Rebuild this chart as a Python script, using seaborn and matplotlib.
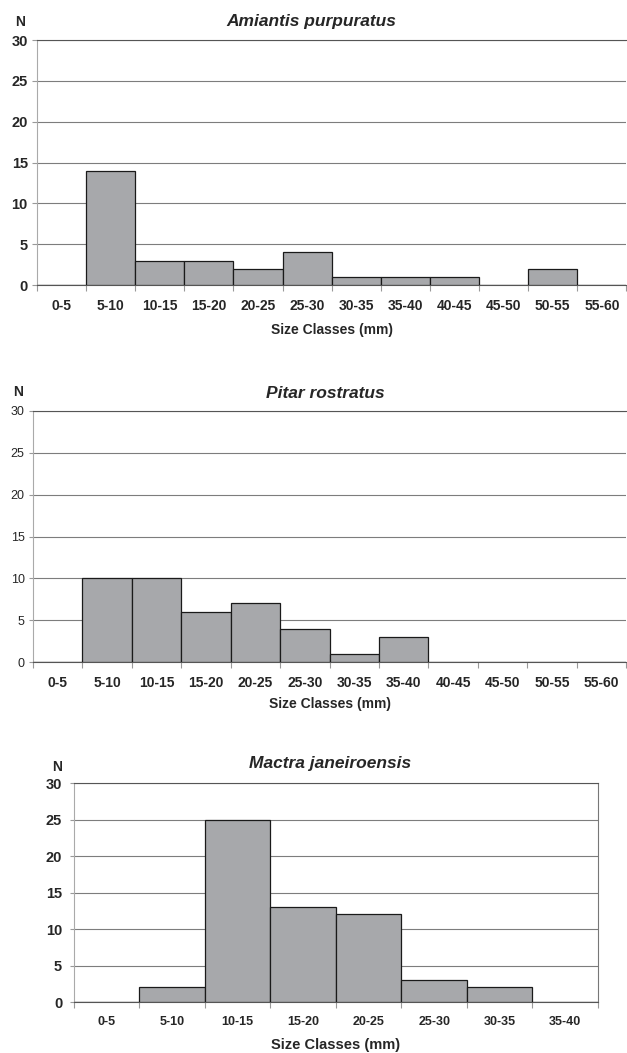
import numpy as np
import pandas as pd
import matplotlib
matplotlib.use("Agg")
import matplotlib.pyplot as plt
import seaborn as sns

# ---- data ----
classes_60 = ["0-5", "5-10", "10-15", "15-20", "20-25", "25-30",
              "30-35", "35-40", "40-45", "45-50", "50-55", "55-60"]
classes_40 = ["0-5", "5-10", "10-15", "15-20", "20-25", "25-30", "30-35", "35-40"]

amiantis_n = [0, 14, 3, 3, 2, 4, 1, 1, 1, 0, 2, 0]
pitar_n = [0, 10, 10, 6, 7, 4, 1, 3, 0, 0, 0, 0]
mactra_n = [0, 2, 25, 13, 12, 3, 2, 0]

titles = ["Amiantis purpuratus", "Pitar rostratus", "Mactra janeiroensis"]

sns.set_style("white")
plt.rcParams["font.family"] = ["Liberation Sans", "DejaVu Sans"]

fig = plt.figure(figsize=(6.27, 10.53), dpi=100)

# axes boxes in figure fractions (left, bottom, width, height)
boxes = [
    (0.059, 0.7293, 0.940, 0.2327),
    (0.0526, 0.3713, 0.946, 0.2384),
    (0.118, 0.0484, 0.8357, 0.2080),
]
panels = [(classes_60, amiantis_n), (classes_60, pitar_n), (classes_40, mactra_n)]

# per-panel text tweaks
xt_size = [10, 10, 9]
yt_size = [10.5, 9, 10.5]
yt_weight = ["bold", "normal", "bold"]
yt_pad = [3, 3, 5.5]
yt_len = [3.6, 3, 3]
xlab_pad = [7, 5, 7]
title_x = [0.466, 0.493, 0.489]
title_pad = [10, 9, 10.5]
n_xpos = [-0.029, -0.025, -0.032]

bar_color = "#a7a8ab"
grid_color = "#7d7d7d"

for i, ((cats, counts), box, title) in enumerate(zip(panels, boxes, titles)):
    ax = fig.add_axes(box)
    df = pd.DataFrame({"size_class": cats, "n": counts})
    sns.barplot(data=df, x="size_class", y="n", color=bar_color, width=1.0,
                edgecolor="#1a1a1a", linewidth=0.9, saturation=1, ax=ax, zorder=3)

    n_cat = len(cats)
    ax.set_xlim(-0.5, n_cat - 0.5)
    ax.set_ylim(0, 30)
    ax.set_yticks([0, 5, 10, 15, 20, 25, 30])
    ax.yaxis.grid(True, color=grid_color, linewidth=0.8, zorder=0)
    ax.set_axisbelow(True)

    # tick marks sit on class boundaries, labels in the middle
    ax.set_xticks(np.arange(n_cat))
    ax.set_xticks(np.arange(n_cat + 1) - 0.5, minor=True)
    ax.tick_params(axis="x", which="major", length=0, pad=10, labelsize=xt_size[i])
    ax.tick_params(axis="x", which="minor", length=4, width=0.8, color="#999999",
                   direction="out", bottom=True)
    ax.tick_params(axis="y", length=yt_len[i], width=0.8, color="#999999", left=True,
                   labelsize=yt_size[i], pad=yt_pad[i])
    for lab in ax.get_xticklabels():
        lab.set_fontweight("bold")
    for lab in ax.get_yticklabels():
        lab.set_fontweight(yt_weight[i])

    ax.spines["left"].set_color("#aaaaaa")
    ax.spines["bottom"].set_color("#555555")
    ax.spines["top"].set_color("#555555")
    ax.spines["top"].set_visible(True)
    if i < 2:
        ax.spines["right"].set_visible(False)
    else:
        ax.spines["right"].set_color("#777777")

    ax.set_xlabel("Size Classes (mm)", fontsize=10 if i < 2 else 10.5,
                  fontweight="bold", labelpad=xlab_pad[i])
    ax.set_ylabel("")
    ax.set_title(title, fontsize=12.5, fontweight="bold", style="italic",
                 pad=title_pad[i], x=title_x[i])
    ax.text(n_xpos[i], 1.075, "N", transform=ax.transAxes,
            fontsize=10, fontweight="bold", ha="center", va="center")

fig.savefig("out.png", dpi=100, facecolor="white")
